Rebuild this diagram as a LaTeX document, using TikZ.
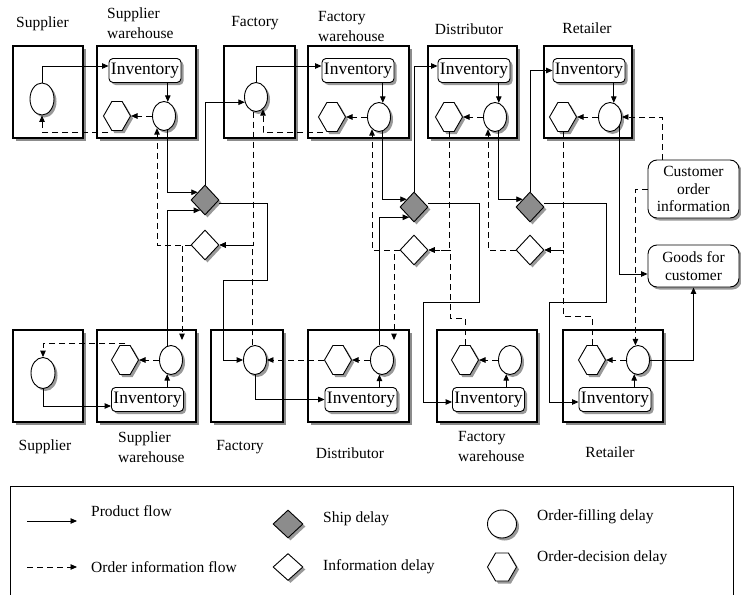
\documentclass[tikz,border=0pt]{standalone}
\usepackage{fontspec}
\setmainfont{Liberation Serif}
\usetikzlibrary{shapes.geometric,shapes.symbols,shadows,arrows.meta}

\tikzset{
  every node/.style={font=\fontsize{15.5}{18}\selectfont},
  shd/.style={drop shadow={shadow xshift=2.5pt, shadow yshift=-2.5pt, fill=black!40, opacity=1}},
  stage/.style={draw, line width=1.1pt, fill=white, minimum height=92pt, inner sep=0pt,
    drop shadow={shadow xshift=3pt, shadow yshift=-3pt, fill=black!45, opacity=1}},
  inv/.style={draw, line width=0.9pt, rounded corners=4pt, fill=white, minimum width=72pt,
    minimum height=24pt, inner sep=0pt, font=\fontsize{17.5}{20}\selectfont, shd},
  ofd/.style={ellipse, draw, line width=0.9pt, fill=white, minimum width=23pt,
    minimum height=29pt, inner sep=0pt, shd},
  odd/.style={signal, signal to=east and west, signal pointer angle=120, draw, line width=0.9pt,
    fill=white, minimum width=27pt, minimum height=29pt, inner sep=0pt, shd},
  shipd/.style={diamond, draw, line width=0.9pt, fill=black!45, minimum width=28pt,
    minimum height=30pt, inner sep=0pt, shd},
  infod/.style={diamond, draw, line width=0.9pt, fill=white, minimum width=28pt,
    minimum height=30pt, inner sep=0pt, shd},
  cust/.style={draw, line width=0.9pt, rounded corners=9pt, fill=white, minimum width=91pt,
    align=center, inner sep=0pt, font=\fontsize{15.5}{17.5}\selectfont, shd},
  prod/.style={line width=0.9pt, -{Triangle[length=6.5pt,width=5.5pt]}},
  info/.style={prod, dash pattern=on 6pt off 4pt},
  lbl/.style={align=center, inner sep=0pt, font=\fontsize{15.5}{20}\selectfont},
  lbll/.style={align=left, anchor=west, inner sep=0pt, font=\fontsize{15.5}{20}\selectfont},
}

\begin{document}
\begin{tikzpicture}[x=1pt, y=-1pt]
\useasboundingbox (0,0) rectangle (741,594);
\fill[white] (0,0) rectangle (741,594);

% ---------- stage boxes ----------
\node[stage, minimum width=70pt]  (S1)  at (48,92) {};
\node[stage, minimum width=99pt]  (SW1) at (146.5,92) {};
\node[stage, minimum width=71pt]  (F1)  at (259.5,92) {};
\node[stage, minimum width=101pt] (FW1) at (358.5,92) {};
\node[stage, minimum width=89pt]  (D1)  at (472.5,92) {};
\node[stage, minimum width=88pt]  (R1)  at (588,92) {};

\node[stage, minimum width=70pt]  (S2)  at (48,376) {};
\node[stage, minimum width=99pt]  (SW2) at (146.5,376) {};
\node[stage, minimum width=72pt]  (F2)  at (247,376) {};
\node[stage, minimum width=101pt] (D2)  at (358.5,376) {};
\node[stage, minimum width=100pt] (FW2) at (487,376) {};
\node[stage, minimum width=100pt] (R2)  at (613,376) {};

% ---------- stage labels ----------
\node[lbl]  (tS1)  at (42.5,24) {Supplier};
\node[lbll] (tSW1) at (107,23)  {Supplier\\warehouse};
\node[lbl]  (tF1)  at (255,23)  {Factory};
\node[lbll] (tFW1) at (318,27)  {Factory\\warehouse};
\node[lbl]  (tD1)  at (469,29)  {Distributor};
\node[lbl]  (tR1)  at (587,28)  {Retailer};

\node[lbl]  (bS2)  at (45,447)    {Supplier};
\node[lbll] (bSW2) at (118,447)   {Supplier\\warehouse};
\node[lbl]  (bF2)  at (240,447)   {Factory};
\node[lbl]  (bD2)  at (350,453)   {Distributor};
\node[lbll] (bFW2) at (458,446.5) {Factory\\warehouse};
\node[lbl]  (bR2)  at (610,452)   {Retailer};

% ---------- inventories ----------
\node[inv] (i1) at (145,70.5) {Inventory};
\node[inv] (i2) at (358,70.5) {Inventory};
\node[inv] (i3) at (474,70.5) {Inventory};
\node[inv] (i4) at (589,70.5) {Inventory};
\node[inv] (i5) at (147.5,399.5) {Inventory};
\node[inv] (i6) at (361,399.5) {Inventory};
\node[inv] (i7) at (488.5,399.5) {Inventory};
\node[inv] (i8) at (615,399.5) {Inventory};

% ---------- order-filling delays ----------
\node[ofd, minimum width=24pt, minimum height=32pt] (e1) at (42,99) {};
\node[ofd] (e2) at (164,116) {};
\node[ofd] (e3) at (256,97) {};
\node[ofd] (e4) at (379,117) {};
\node[ofd] (e5) at (495,117) {};
\node[ofd] (e6) at (610,117) {};
\node[ofd, minimum width=24pt, minimum height=31pt] (e7) at (43,373) {};
\node[ofd] (e8) at (171,360) {};
\node[ofd] (e9) at (255,360) {};
\node[ofd] (e10) at (382,360) {};
\node[ofd] (e11) at (510,360) {};
\node[ofd] (e12) at (638,360) {};

% ---------- order-decision delays ----------
\node[odd] (h1) at (117,116) {};
\node[odd] (h2) at (332,117) {};
\node[odd] (h3) at (449,117) {};
\node[odd] (h4) at (563,117) {};
\node[odd] (h5) at (125,360) {};
\node[odd] (h6) at (338,360) {};
\node[odd] (h7) at (465,360) {};
\node[odd] (h8) at (592,360) {};

% ---------- ship and information delays ----------
\node[shipd] (sd1) at (205,200) {};
\node[infod] (id1) at (205,245) {};
\node[shipd] (sd2) at (414,207) {};
\node[infod] (id2) at (414,250) {};
\node[shipd] (sd3) at (530,207) {};
\node[infod] (id3) at (530,250) {};

% ---------- customer side ----------
\node[cust, minimum height=58pt] (co) at (693.5,189) {Customer\\order\\information};
\node[cust, minimum height=42pt] (gc) at (693.5,266) {Goods for\\customer};

% ---------- product flow ----------
\draw[prod] (e1.north) |- ([yshift=4.5pt]i1.west);
\draw[prod] (i1.south -| e2.75) -- (e2.75);
\draw[prod] (e2.-75) |- (sd1.north west);
\draw[prod] (sd1.north) |- (e3.205);
\draw[prod] (e3.north) |- ([yshift=4.5pt]i2.west);
\draw[prod] (i2.south -| e4.75) -- (e4.75);
\draw[prod] (e4.-75) |- (sd2.north west);
\draw[prod] (sd2.north) |- ([yshift=4.5pt]i3.west);
\draw[prod] (i3.south -| e5.75) -- (e5.75);
\draw[prod] (e5.-75) |- (sd3.north west);
\draw[prod] (sd3.north) |- (i4.west);
\draw[prod] (i4.south -| e6.75) -- (e6.75);
\draw[prod] (e6.-40) |- ([yshift=-8pt]gc.west);

\draw[prod] (e7.south) |- ([yshift=-6.5pt]i5.west);
\draw[prod] (i5.north -| e8.-105) -- (e8.-105);
\draw[prod] (e8.105) |- (sd1.245);
\draw[prod] ([yshift=-3pt]sd1.east) -| (267,280) -- (223,280) |- (e9.west);
\draw[prod] (e9.south) |- (i6.west);
\draw[prod] (i6.north -| e10.-100) -- (e10.-100);
\draw[prod] (e10.100) |- (sd2.245);
\draw[prod] ([yshift=4pt]sd2.east) -| (479,302) -- (423,302) |- ([yshift=-2.5pt]i7.west);
\draw[prod] (i7.north -| e11.-105) -- (e11.-105);
\draw[prod] ([yshift=4pt]sd3.east) -| (606,302) -- (549,302) |- ([yshift=-2.5pt]i8.west);
\draw[prod] (i8.north -| e12.-105) -- (e12.-105);
\draw[prod] (e12.east) -| (gc.south);

% ---------- order information flow ----------
\draw[info] (e2.west) -- (h1.east);
\draw[info] ([xshift=-9pt,yshift=-16pt]h1.center) -| (e1.south);
\draw[info] (e4.west) -- (h2.east);
\draw[info] ([xshift=-9pt,yshift=-15pt]h2.center) -| (e3.-60);
\draw[info] (e5.west) -- (h3.east);
\draw[info] (e6.west) -- (h4.east);
\draw[info] ([xshift=15pt]co.north west) |- (e6.east);
\draw[info] (co.west) -| (e12.100);

\draw[info] (id1.west) -| (e2.-120);
\draw[info] (id1.west) -| ([xshift=11pt,yshift=5pt]e8.north);
\draw[info] (e3.-100) |- (id1.east);
\draw[info] (e9.100) |- (id1.east);

\draw[info] (id2.west) -| (e4.-120);
\draw[info] (id2.west) -| ([xshift=12pt,yshift=5pt]e10.north);
\draw[info] (h3.south) |- (id2.east);
\draw[info] (h7.north) |- (450,318) |- (id2.east);

\draw[info] (id3.west) -| (e5.-120);
\draw[info] (h4.south) |- (id3.east);
\draw[info] (h8.north) |- (563,316) |- (id3.east);

\draw[info] (e8.west) -- (h5.east);
\draw[info] (e10.west) -- (h6.east);
\draw[info] (e11.west) -- (h7.east);
\draw[info] (e12.west) -- (h8.east);
\draw[info] ([yshift=1.5pt]h5.north) -| (e7.north);
\draw[info] (h6.west) -- (e9.east);

% ---------- legend ----------
\node[draw, line width=0.9pt, minimum width=723pt, minimum height=120pt, anchor=north west,
      inner sep=0pt] (leg) at (10,486) {};
\coordinate (pfa) at (27,521);
\coordinate (pfb) at (77,521);
\draw[prod] (pfa) -- (pfb);
\node[lbll] (pft) at (91,511) {Product flow};
\coordinate (oia) at (27,567);
\coordinate (oib) at (77,567);
\draw[info] (oia) -- (oib);
\node[lbll] (oit) at (91,567) {Order information flow};
\node[shipd, minimum width=30pt, minimum height=28pt] (lsd) at (288,524) {};
\node[lbll] (lsdt) at (323,519) {Ship delay};
\node[infod, minimum width=30pt, minimum height=27pt] (lid) at (288,567) {};
\node[lbll] (lidt) at (323,567) {Information delay};
\node[ofd, minimum width=29pt, minimum height=28pt] (lofd) at (502,524) {};
\node[lbll] (lofdt) at (537,517) {Order-filling delay};
\node[odd, minimum width=29pt, minimum height=28pt] (lodd) at (502,567) {};
\node[lbll] (loddt) at (537,558) {Order-decision delay};
\end{tikzpicture}
\end{document}
